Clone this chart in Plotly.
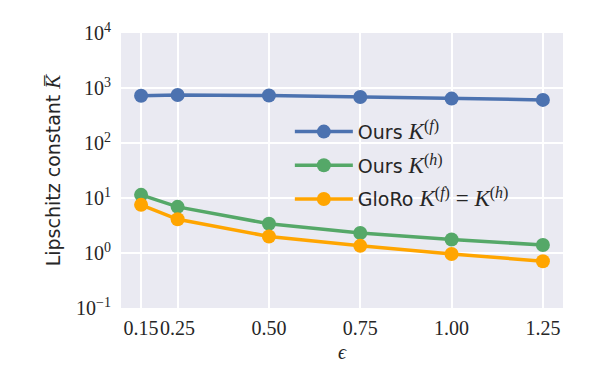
import plotly.graph_objects as go

# --- dati ---
epsilon = [0.15, 0.25, 0.50, 0.75, 1.00, 1.25]
ours_f = [724, 745, 730, 687, 641, 608]
ours_h = [11.4, 6.9, 3.4, 2.31, 1.76, 1.40]
gloro = [7.5, 4.1, 2.0, 1.35, 0.96, 0.71]

x_ticks = [0.15, 0.25, 0.50, 0.75, 1.00, 1.25]
x_ticktext = ["0.15", "0.25", "0.50", "0.75", "1.00", "1.25"]
y_ticks = [0.1, 1, 10, 100, 1000, 10000]
y_ticktext = ["10<sup>\u22121</sup>", "10<sup>0</sup>", "10<sup>1</sup>",
              "10<sup>2</sup>", "10<sup>3</sup>", "10<sup>4</sup>"]

SERIF = "Liberation Serif"
SANS = "DejaVu Sans"


def math(s, size=None):
    st = f"font-family:{SERIF}"
    if size:
        st += f";font-size:{size}px"
    return f'<span style="{st}"><i>{s}</i></span>'


def sup(s):
    return (f'<sup><span style="font-family:{SERIF};font-size:16px">(</span>'
            + math(s, 16)
            + f'<span style="font-family:{SERIF};font-size:16px">)</span></sup>')


nomi = [
    "Ours " + math("K", 23) + sup("f"),
    "Ours " + math("K", 23) + sup("h"),
    "GloRo " + math("K", 23) + sup("f")
    + f'<span style="font-family:{SERIF};font-size:23px"> = </span>' + math("K", 23) + sup("h"),
]
colori = ["#4C72B0", "#55A868", "#FFA500"]
serie = [ours_f, ours_h, gloro]

fig = go.Figure()
for i, (nome, col, y) in enumerate(zip(nomi, colori, serie)):
    fig.add_trace(go.Scatter(
        x=epsilon, y=y, name=nome, mode="lines+markers",
        legendgroup=f"g{i}",
        line=dict(color=col, width=3.5),
        marker=dict(color=col, size=14),
    ))

# la pagina ha un margine di 8px sul body: lo compenso
fig.update_layout(
    width=598, height=366,
    margin=dict(l=113, r=43, t=16, b=66),
    paper_bgcolor="white",
    plot_bgcolor="#EAEAF2",
    font=dict(family=SANS, size=19, color="#262626"),
    showlegend=True,
    legend=dict(
        x=0.382, y=0.71, xanchor="left", yanchor="top",
        bgcolor="rgba(0,0,0,0)", font=dict(size=19, family=SANS),
        tracegroupgap=6, itemwidth=58,
    ),
)

fig.update_xaxes(
    range=[0.095, 1.305], tickvals=x_ticks, ticktext=x_ticktext, tickangle=0,
    showgrid=True, gridcolor="white", gridwidth=1.6, zeroline=False,
    showline=False, ticks="", ticklabelstandoff=6,
    tickfont=dict(family=SERIF, size=20, color="#262626"),
    title=dict(text="<i>\u03f5</i>", font=dict(family=SERIF, size=20), standoff=6),
)
fig.update_yaxes(
    type="log", range=[-1, 4], tickvals=y_ticks, ticktext=y_ticktext,
    showgrid=True, gridcolor="white", gridwidth=1.6, zeroline=False,
    showline=False, ticks="", ticklabelstandoff=9,
    tickfont=dict(family=SERIF, size=20, color="#262626"),
    title=dict(text="Lipschitz constant " + math("K\u0305", 21), font=dict(family=SANS, size=19), standoff=10),
)

fig.write_html("out.html")
